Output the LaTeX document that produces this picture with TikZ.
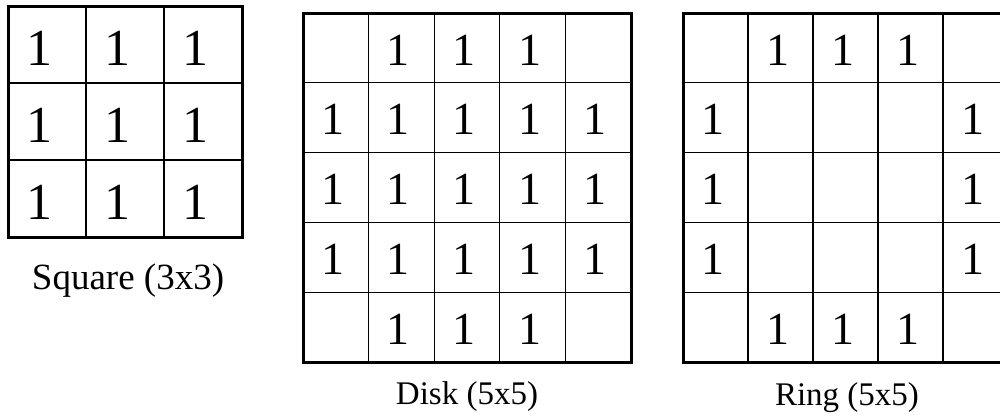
\documentclass[tikz,border=0pt]{standalone}
\usepackage{fontspec}
\setmainfont{Liberation Serif}
\begin{document}
\begin{tikzpicture}[x=1pt,y=-1pt,
  thin grid/.style={line width=1.3pt,black},
  outer/.style={line width=3pt,black,line join=miter},
  digbig/.style={anchor=base west,inner sep=0pt,font=\fontsize{52}{52}\selectfont},
  digsmall/.style={anchor=base west,inner sep=0pt,font=\fontsize{46}{46}\selectfont},
  caplabel/.style={anchor=base,inner sep=0pt}]
\useasboundingbox (0,0) rectangle (1000,416);
\clip (0,0) rectangle (1000,416);
% ---------- Square (3x3)
\foreach \i in {1,2} {
  \draw[thin grid] (8+78*\i,6) -- (8+78*\i,237);
  \draw[thin grid] (8,6+77*\i) -- (242,6+77*\i);
}
\draw[outer] (8,6) rectangle (242,237);
\foreach \r in {0,1,2} \foreach \c in {0,1,2}
  \node[digbig] (s\r\c) at (8+78*\c+18, 6+77*\r+59) {1};
\node[caplabel,font=\fontsize{37}{37}\selectfont] (sqlabel) at (128,289) {Square (3x3)};
% ---------- Disk (5x5)
\foreach \i in {1,2,3,4} {
  \draw[thin grid] (303+65.6*\i,13) -- (303+65.6*\i,362);
  \draw[thin grid] (303,13+69.8*\i) -- (631,13+69.8*\i);
}
\draw[outer] (303,13) rectangle (631,362);
\foreach \r/\c in {0/1,0/2,0/3,
                   1/0,1/1,1/2,1/3,1/4,
                   2/0,2/1,2/2,2/3,2/4,
                   3/0,3/1,3/2,3/3,3/4,
                   4/1,4/2,4/3}
  \node[digsmall] (d\r\c) at (303+65.6*\c+18, 13+69.8*\r+52) {1};
\node[caplabel,font=\fontsize{33}{33}\selectfont] (disklabel) at (467,404) {Disk (5x5)};
% ---------- Ring (5x5)
\foreach \i in {1,2,3,4} {
  \draw[thin grid] (683+65*\i,13) -- (683+65*\i,362);
  \draw[thin grid] (683,13+69.8*\i) -- (1008,13+69.8*\i);
}
\draw[outer] (683,13) rectangle (1008,362);
\foreach \r/\c in {0/1,0/2,0/3,
                   1/0,1/4,
                   2/0,2/4,
                   3/0,3/4,
                   4/1,4/2,4/3}
  \node[digsmall] (r\r\c) at (683+65*\c+18, 13+69.8*\r+52) {1};
\node[caplabel,font=\fontsize{33}{33}\selectfont] (ringlabel) at (847,405) {Ring (5x5)};
\end{tikzpicture}
\end{document}
